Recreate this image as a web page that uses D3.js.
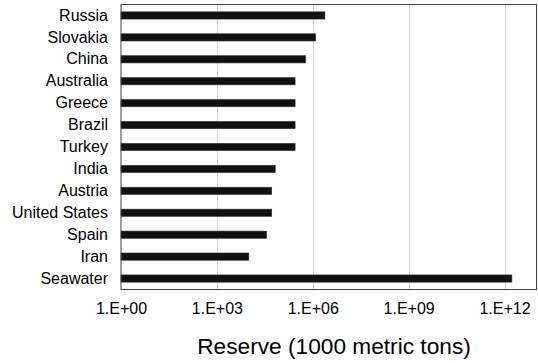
<!DOCTYPE html>
<html><head><meta charset="utf-8">
<script src="https://cdn.jsdelivr.net/npm/d3@7"></script>
<style>body{margin:0;background:#fff}svg{display:block}text{font-family:"Liberation Sans",Arial,sans-serif;fill:#000}</style>
</head><body><svg id="c" width="538" height="363"></svg>
<script>
const categories = ["Russia","Slovakia","China","Australia","Greece","Brazil","Turkey","India","Austria","United States","Spain","Iran","Seawater"];
const reserves = [2.4e6,1.23e6,6.0e5,2.8e5,2.8e5,2.8e5,2.8e5,6.7e4,5.2e4,5.2e4,3.6e4,1.0e4,1.7e12];
const tickValues = [1,1e3,1e6,1e9,1e12];
const tickLabels = ["1.E+00","1.E+03","1.E+06","1.E+09","1.E+12"];
const axisTitle = "Reserve (1000 metric tons)";

const svg = d3.select("#c");
const L=121, R=536.5, T=4.5, B=289.5;
const x = d3.scaleLog().domain([1,1e13]).range([L,R]);
const y = d3.scaleBand().domain(categories).range([T,B]).paddingInner(0.67).paddingOuter(0.335);

svg.append("g").selectAll("line").data(tickValues.slice(1)).join("line")
  .attr("x1",d=>Math.round(x(d))+0.5).attr("x2",d=>Math.round(x(d))+0.5)
  .attr("y1",T).attr("y2",B).attr("stroke","#d9d9d9").attr("stroke-width",1);

svg.append("g").selectAll("rect").data(categories).join("rect")
  .attr("x",x(1)).attr("y",d=>y(d))
  .attr("width",(d,i)=>x(reserves[i])-x(1)).attr("height",y.bandwidth())
  .attr("fill","#111").attr("stroke","#333").attr("stroke-width",0.6);

svg.append("rect").attr("x",L).attr("y",T).attr("width",R-L).attr("height",B-T)
  .attr("fill","none").attr("stroke","#404040").attr("stroke-width",1);

const yAxis = d3.axisLeft(y).tickSize(0).tickPadding(13);
const gy = svg.append("g").attr("transform",`translate(${L},0)`).call(yAxis);
gy.select(".domain").remove();
gy.selectAll("text").attr("font-size",16).attr("font-family","Liberation Sans, Arial, sans-serif").attr("fill","#000");

const xAxis = d3.axisBottom(x).tickValues(tickValues).tickFormat((d,i)=>tickLabels[i]).tickSize(0).tickPadding(13);
const gx = svg.append("g").attr("transform",`translate(0,${B})`).call(xAxis);
gx.select(".domain").remove();
gx.selectAll("text").attr("font-size",16).attr("font-family","Liberation Sans, Arial, sans-serif").attr("fill","#000");

svg.append("text").attr("x",334).attr("y",354).attr("text-anchor","middle")
  .attr("font-size",22.7).text(axisTitle);
</script></body></html>
